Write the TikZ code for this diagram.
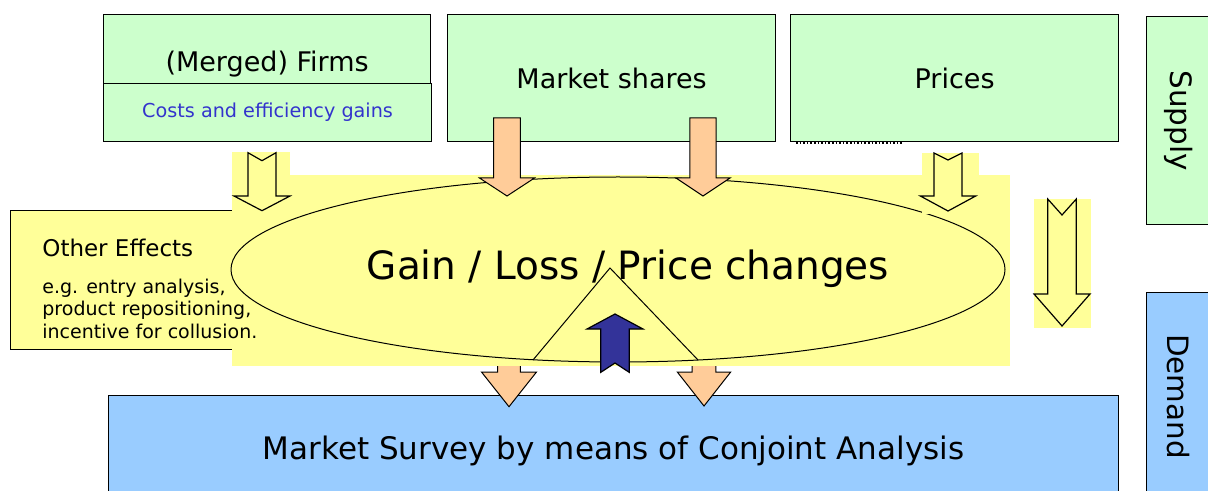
\documentclass[tikz,border=0pt]{standalone}
\usepackage{fontspec}
\usepackage{graphicx}
\setmainfont{DejaVu Sans}
\usetikzlibrary{shapes.geometric}

\definecolor{greenfill}{HTML}{CCFFCC}
\definecolor{yellowfill}{HTML}{FFFF99}
\definecolor{orangefill}{HTML}{FFCC99}
\definecolor{bluefill}{HTML}{99CCFF}
\definecolor{navyfill}{HTML}{333399}
\definecolor{costtext}{HTML}{3333CC}

% block arrow: style, x, top, head start, tip, half shaft, half head, notch
\newcommand{\blockarrow}[8]{%
	\draw[#1] (#2-#6,#3) -- (#2,#3+#8) -- (#2+#6,#3) -- (#2+#6,#4) -- (#2+#7,#4)
		-- (#2,#5) -- (#2-#7,#4) -- (#2-#6,#4) -- cycle;}

\begin{document}
\begin{tikzpicture}[x=0.5pt, y=-0.5pt,
	greenbox/.style={draw, fill=greenfill, line width=0.6pt, inner sep=0pt, anchor=north west},
	bluebox/.style={draw, fill=bluefill, line width=0.6pt, inner sep=0pt, anchor=north west},
	yellowbox/.style={draw, fill=yellowfill, line width=0.6pt, inner sep=0pt, anchor=north west},
	boxtext/.style={font=\fontsize{13.5}{16}\selectfont},
	hollow/.style={draw, fill=yellowfill, line width=0.6pt},
	orangearrow/.style={draw, fill=orangefill, line width=0.5pt},
	navyarrow/.style={draw, fill=navyfill, line width=0.6pt}]
	\useasboundingbox (0,0) rectangle (1208,491);
	% supply side
	\node[greenbox, boxtext, minimum width=163.5pt, minimum height=49pt] (firms) at (103,14) {(Merged) Firms};
	\node[greenbox, text=costtext, font=\fontsize{9.6}{11}\selectfont, minimum width=164pt, minimum height=29pt] (costs) at (103,83) {Costs and efficiency gains};
	\node[greenbox, boxtext, minimum width=164pt, minimum height=63.5pt] (shares) at (447,14) {Market shares};
	\node[greenbox, boxtext, minimum width=164pt, minimum height=63.5pt] (prices) at (790,14) {Prices};
	\draw[densely dotted, line width=0.8pt] (796,143) -- (902,143);
	\node[greenbox, font=\fontsize{14.7}{17}\selectfont, minimum width=32pt, minimum height=104pt] (supply) at (1146,16) {\rotatebox{-90}{Supply}};
	% demand side
	\node[bluebox, font=\fontsize{15.5}{18}\selectfont, minimum width=505pt, minimum height=55pt] (survey) at (108,395) {Market Survey by means of Conjoint Analysis};
	\node[bluebox, font=\fontsize{14.7}{17}\selectfont, minimum width=32pt, minimum height=104pt] (demand) at (1146,292) {\rotatebox{-90}{Demand}};
	\blockarrow{orangearrow}{509}{340}{372}{406.7}{11.3}{27.5}{0}
	\blockarrow{orangearrow}{704}{340}{372}{406}{11.8}{26.7}{0}
	% other effects
	\node[yellowbox, minimum width=145pt, minimum height=69.5pt] (other) at (10,210) {};
	% yellow area and ellipse
	\fill[yellowfill] (232,175) rectangle (1010,366);
	\fill[yellowfill] (232,152) rectangle (290,176);
	\node[draw, ellipse, line width=0.5pt, inner sep=0pt, minimum width=387pt, minimum height=92.5pt] (gain) at (618,269.5) {};
	\fill[yellowfill] (922,153) rectangle (979,214);
	\fill[yellowfill] (1034,199) rectangle (1091,328);
	\blockarrow{hollow}{262}{152.7}{196}{210.7}{14}{28}{8}
	\blockarrow{hollow}{948}{153}{196}{211}{14}{27.7}{7}
	\blockarrow{hollow}{1062}{199}{294}{326}{14.3}{28}{16}
	\blockarrow{orangearrow}{507}{118}{178}{196}{13.3}{27.5}{0}
	\blockarrow{orangearrow}{703}{118}{178}{196}{13.2}{27}{0}
	\draw[line width=0.5pt] (533,360) -- (610,268) -- (698,360);
	\blockarrow{navyarrow}{615}{372.3}{329}{314}{14.2}{28}{0-9.3}
	% texts
	\node[anchor=base, inner sep=0pt, font=\fontsize{19.5}{23}\selectfont] (gaintext) at (628,279.3) {Gain / Loss / Price changes};
	\node[anchor=base west, inner sep=0pt, font=\fontsize{11.5}{14}\selectfont] (othertitle) at (42,256.7) {Other Effects};
	\foreach \t [count=\i] in {{e.g. entry analysis,},{product repositioning,},{incentive for collusion.}}
		\node[anchor=base west, inner sep=0pt, font=\fontsize{9.5}{11}\selectfont] (example\i) at (42,{293.3+22.5*(\i-1)}) {\t};
\end{tikzpicture}
\end{document}
